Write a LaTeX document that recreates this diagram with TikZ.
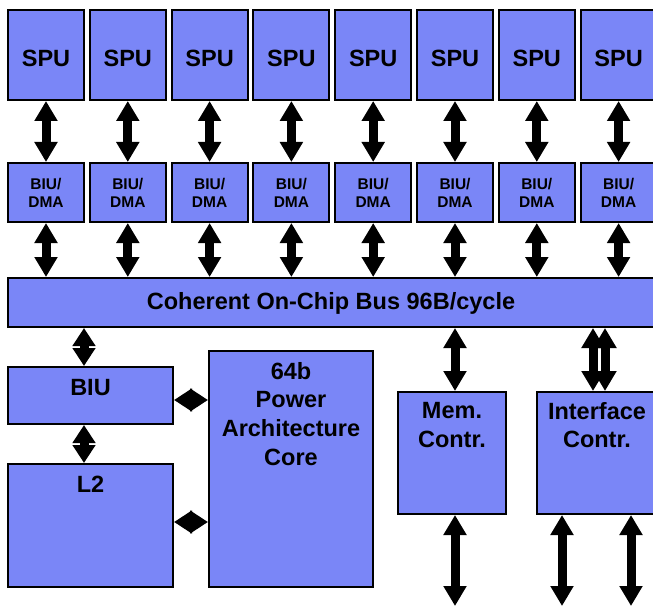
\documentclass[tikz,border=0pt]{standalone}
\usepackage{fontspec}
\setmainfont{Liberation Sans}
\usepackage{xcolor}
\usepackage{tikz}
\usetikzlibrary{arrows.meta, positioning}
\definecolor{chipblue}{RGB}{122,134,247}
\tikzstyle{unit} = [rectangle, draw=black, line width=2pt, fill=chipblue, text centered, inner sep=0pt, font=\fontsize{23.5}{28.7}\selectfont\bfseries]
\tikzstyle{spu} = [unit, minimum width=76pt, minimum height=90pt, text height=23pt]
\tikzstyle{dma} = [unit, minimum width=76pt, minimum height=59pt, align=center, font=\fontsize{15.5}{18}\selectfont\bfseries]
\tikzstyle{toplabel} = [anchor=north, align=center, inner sep=0pt, font=\fontsize{23.5}{28.7}\selectfont\bfseries]
\tikzstyle{biglink} = [line width=9pt, {Triangle[width=22pt,length=20pt]}-{Triangle[width=22pt,length=20pt]}]
\tikzstyle{shortlink} = [line width=9pt, {Triangle[width=22pt,length=18pt]}-{Triangle[width=22pt,length=18pt]}]

\begin{document}
\begin{tikzpicture}[x=1pt, y=-1pt]
\useasboundingbox (0,0) rectangle (653,607);
% SPU row
\node [spu] (spu1) at (46,55) {SPU};
\node [spu] (spu2) at (127.8,55) {SPU};
\node [spu] (spu3) at (209.6,55) {SPU};
\node [spu] (spu4) at (291.4,55) {SPU};
\node [spu] (spu5) at (373.2,55) {SPU};
\node [spu] (spu6) at (455,55) {SPU};
\node [spu] (spu7) at (536.8,55) {SPU};
\node [spu] (spu8) at (618.6,55) {SPU};
% BIU/DMA row
\node [dma] (dma1) at (46,192.5) {BIU/\\DMA};
\node [dma] (dma2) at (127.8,192.5) {BIU/\\DMA};
\node [dma] (dma3) at (209.6,192.5) {BIU/\\DMA};
\node [dma] (dma4) at (291.4,192.5) {BIU/\\DMA};
\node [dma] (dma5) at (373.2,192.5) {BIU/\\DMA};
\node [dma] (dma6) at (455,192.5) {BIU/\\DMA};
\node [dma] (dma7) at (536.8,192.5) {BIU/\\DMA};
\node [dma] (dma8) at (618.6,192.5) {BIU/\\DMA};
% bus
\node [unit, minimum width=646pt, minimum height=49pt, text depth=4pt] (bus) at (331,302.5) {Coherent On-Chip Bus 96B/cycle};
% lower blocks
\node [unit, minimum width=165pt, minimum height=57pt, label={[toplabel, yshift=-13pt]north:BIU}] (biu) at (90.5,395.5) {};
\node [unit, minimum width=165pt, minimum height=123pt, label={[toplabel, yshift=-13pt]north:L2}] (ltwo) at (90.5,525.5) {};
\node [unit, minimum width=164pt, minimum height=236pt, label={[toplabel, yshift=-12pt]north:64b\\Power\\Architecture\\Core}] (core) at (291,469) {};
\node [unit, minimum width=108pt, minimum height=122pt, label={[toplabel, yshift=-11pt]north:Mem.\\Contr.}] (mem) at (452,453) {};
\node [unit, minimum width=120pt, minimum height=122pt, label={[toplabel, yshift=-11pt]north:Interface\\Contr.}] (iface) at (597,453) {};
\coordinate (memout) at (455,606);
\coordinate (ifout1) at (562,606);
\coordinate (ifout2) at (631,606);

% SPU <-> BIU/DMA <-> bus
\draw [biglink] (spu1) -- (dma1);
\draw [biglink] (spu2) -- (dma2);
\draw [biglink] (spu3) -- (dma3);
\draw [biglink] (spu4) -- (dma4);
\draw [biglink] (spu5) -- (dma5);
\draw [biglink] (spu6) -- (dma6);
\draw [biglink] (spu7) -- (dma7);
\draw [biglink] (spu8) -- (dma8);
\draw [biglink] (dma1.south) -- (dma1.south |- bus.north);
\draw [biglink] (dma2.south) -- (dma2.south |- bus.north);
\draw [biglink] (dma3.south) -- (dma3.south |- bus.north);
\draw [biglink] (dma4.south) -- (dma4.south |- bus.north);
\draw [biglink] (dma5.south) -- (dma5.south |- bus.north);
\draw [biglink] (dma6.south) -- (dma6.south |- bus.north);
\draw [biglink] (dma7.south) -- (dma7.south |- bus.north);
\draw [biglink] (dma8.south) -- (dma8.south |- bus.north);

% PPE side
\draw [shortlink] ([xshift=-6.5pt]biu.north |- bus.south) -- ([xshift=-6.5pt]biu.north);
\draw [shortlink] ([xshift=-6.5pt]biu.south) -- ([xshift=-6.5pt]biu.south |- ltwo.north);
\draw [shortlink] ([yshift=-4.5pt]biu.east) -- ([yshift=-4.5pt]biu.east -| core.west);
\draw [shortlink] ([yshift=3.5pt]ltwo.east) -- ([yshift=3.5pt]ltwo.east -| core.west);

% controllers
\draw [biglink] ([xshift=3pt]mem.north |- bus.south) -- ([xshift=3pt]mem.north);
\draw [biglink] ([xshift=-4pt]iface.north |- bus.south) -- ([xshift=-4pt]iface.north);
\draw [biglink] ([xshift=8pt]iface.north |- bus.south) -- ([xshift=8pt]iface.north);
\draw [biglink] (memout |- mem.south) -- (memout);
\draw [biglink] (ifout1 |- iface.south) -- (ifout1);
\draw [biglink] (ifout2 |- iface.south) -- (ifout2);
\end{tikzpicture}
\end{document}
